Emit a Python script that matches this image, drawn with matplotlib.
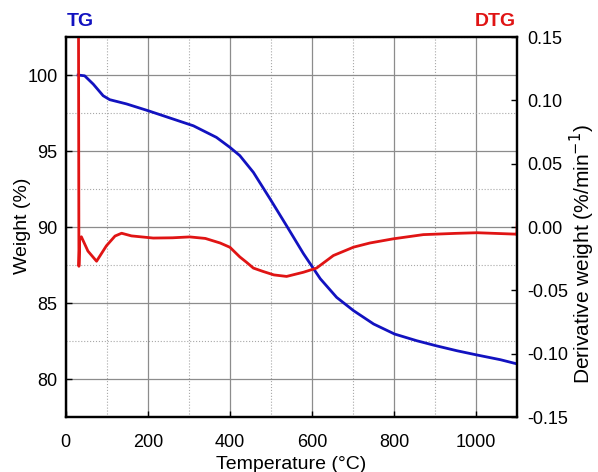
"""TG / DTG curves of the sample, redrawn from the reference figure."""

import matplotlib.pyplot as plt
from matplotlib.ticker import MultipleLocator, FormatStrFormatter

plt.rcParams["font.family"] = ["Liberation Sans", "DejaVu Sans"]

# TG curve (weight %)
tg_temp = [30, 46, 67, 91, 107, 148, 201, 311, 367, 400, 424, 457, 498, 538,
           579, 620, 660, 701, 750, 801, 855, 902, 953, 1002, 1059, 1100]
tg_weight = [100.0, 99.95, 99.4, 98.64, 98.38, 98.1, 97.65, 96.66, 95.9, 95.24,
             94.7, 93.6, 91.84, 90.08, 88.25, 86.6, 85.37, 84.5, 83.62, 82.96,
             82.52, 82.19, 81.86, 81.58, 81.27, 80.99]

# DTG curve (%/min)
dtg_temp = [31, 32, 34, 38, 54, 75, 99, 120, 136, 160, 213, 260, 302, 340, 376,
            400, 424, 441, 457, 480, 507, 538, 579, 611, 652, 701, 741, 798,
            871, 950, 1002, 1095, 1099, 1100]
dtg_value = [0.16, -0.031, -0.009, -0.0077, -0.019, -0.027, -0.0148, -0.0071,
             -0.0049, -0.007, -0.0087, -0.0085, -0.0078, -0.009, -0.0126, -0.016,
             -0.0236, -0.028, -0.0324, -0.035, -0.0378, -0.039, -0.0357, -0.0324,
             -0.0225, -0.0159, -0.0126, -0.0093, -0.006, -0.005, -0.0045,
             -0.0056, -0.006, 0.004]

BLUE = "#1212c0"
RED = "#e01414"


def main() -> None:
    fig = plt.figure(figsize=(5.98, 4.72), dpi=100)
    ax = fig.add_axes([0.110, 0.1165, 0.755, 0.805])
    ax2 = ax.twinx()

    ax.plot(tg_temp, tg_weight, color=BLUE, lw=2, zorder=3)
    ax2.plot(dtg_temp, dtg_value, color=RED, lw=2)

    ax.set_xlim(0, 1100)
    ax.set_ylim(77.5, 102.5)
    ax2.set_ylim(-0.15, 0.15)

    ax.xaxis.set_major_locator(MultipleLocator(200))
    ax.xaxis.set_minor_locator(MultipleLocator(100))
    ax.yaxis.set_major_locator(MultipleLocator(5))
    ax.yaxis.set_minor_locator(MultipleLocator(2.5))
    ax2.yaxis.set_major_locator(MultipleLocator(0.05))
    ax2.yaxis.set_major_formatter(FormatStrFormatter("%.2f"))

    ax.grid(which="major", color="#8c8c8c", lw=0.9, ls="-")
    ax.grid(which="minor", color="#a8a8a8", lw=0.8, ls=":")
    ax.set_axisbelow(True)

    for a in (ax, ax2):
        a.tick_params(which="both", direction="in", labelsize=13, length=4, width=1)
        a.tick_params(which="minor", length=0)
        for sp in a.spines.values():
            sp.set_linewidth(1.6)
    ax.tick_params(axis="x", pad=12)
    ax.tick_params(axis="y", pad=6)
    ax2.tick_params(axis="y", pad=7)

    ax.set_xlabel("Temperature (°C)", fontsize=14, labelpad=4)
    fig.text(0.037, 0.522, "Weight (%)", fontsize=14, rotation=90,
             ha="center", va="center")
    fig.text(0.974, 0.462, "Derivative weight (%/min$^{-1}$)", fontsize=15,
             rotation=90, ha="center", va="center")

    fig.text(0.111, 0.955, "TG", color=BLUE, fontsize=14, fontweight="bold",
             ha="left", va="center")
    fig.text(0.863, 0.955, "DTG", color=RED, fontsize=14, fontweight="bold",
             ha="right", va="center")

    fig.savefig("out.png", dpi=100)


if __name__ == "__main__":
    main()
